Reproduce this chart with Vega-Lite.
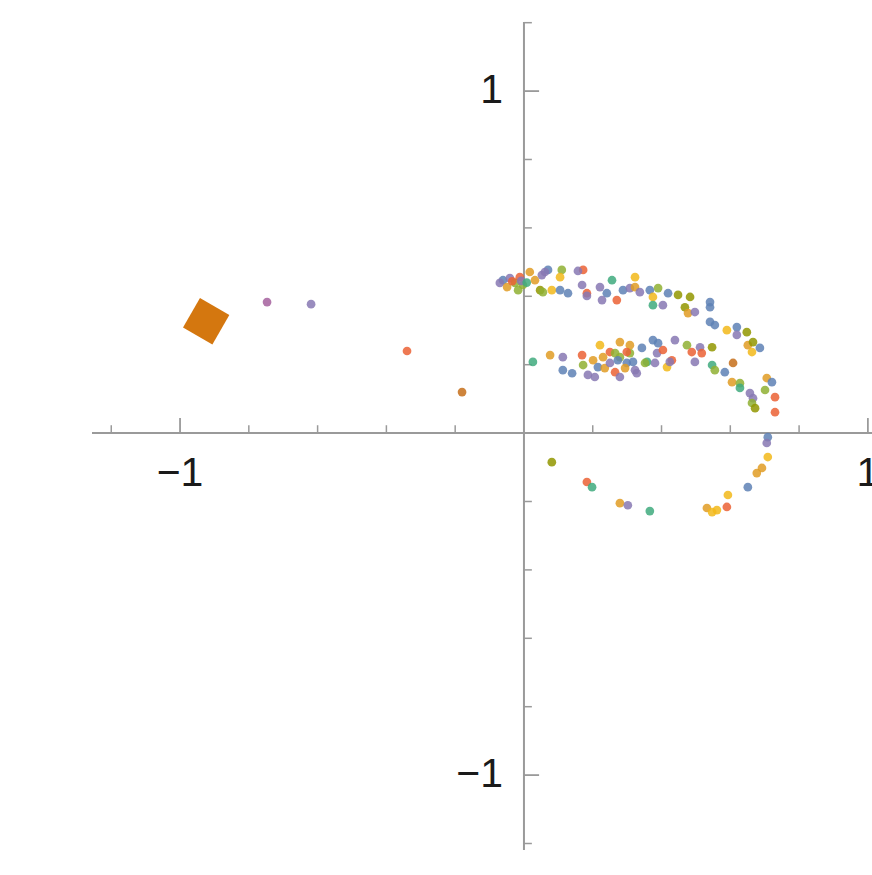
{
  "$schema": "https://vega.github.io/schema/vega-lite/v6.json",
  "width": 780,
  "height": 828,
  "autosize": {"type": "none"},
  "padding": {"left": 92, "top": 22, "right": 0, "bottom": 25},
  "background": "white",
  "config": {"view": {"stroke": null}},
  "datasets": {
    "pts": [
      {"x": -0.061, "y": 0.447, "c": "blue"},
      {"x": -0.041, "y": 0.453, "c": "purple"},
      {"x": -0.026, "y": 0.439, "c": "green"},
      {"x": -0.012, "y": 0.456, "c": "red"},
      {"x": -0.003, "y": 0.433, "c": "green"},
      {"x": 0.017, "y": 0.471, "c": "orange"},
      {"x": 0.032, "y": 0.447, "c": "orange"},
      {"x": 0.052, "y": 0.462, "c": "purple"},
      {"x": 0.070, "y": 0.477, "c": "blue"},
      {"x": 0.047, "y": 0.418, "c": "olive"},
      {"x": 0.081, "y": 0.418, "c": "yellow"},
      {"x": -0.070, "y": 0.439, "c": "purple"},
      {"x": -0.049, "y": 0.427, "c": "orange"},
      {"x": -0.017, "y": 0.418, "c": "green"},
      {"x": -0.034, "y": 0.444, "c": "red"},
      {"x": -0.008, "y": 0.445, "c": "purple"},
      {"x": 0.008, "y": 0.440, "c": "teal"},
      {"x": 0.061, "y": 0.471, "c": "purple"},
      {"x": 0.110, "y": 0.477, "c": "green"},
      {"x": 0.105, "y": 0.456, "c": "yellow"},
      {"x": 0.172, "y": 0.477, "c": "red"},
      {"x": 0.157, "y": 0.474, "c": "purple"},
      {"x": 0.055, "y": 0.412, "c": "green"},
      {"x": 0.105, "y": 0.418, "c": "blue"},
      {"x": 0.128, "y": 0.409, "c": "blue"},
      {"x": 0.169, "y": 0.433, "c": "purple"},
      {"x": 0.183, "y": 0.409, "c": "red"},
      {"x": 0.183, "y": 0.401, "c": "purple"},
      {"x": 0.221, "y": 0.427, "c": "purple"},
      {"x": 0.241, "y": 0.409, "c": "blue"},
      {"x": 0.256, "y": 0.447, "c": "teal"},
      {"x": 0.227, "y": 0.389, "c": "purple"},
      {"x": 0.270, "y": 0.389, "c": "red"},
      {"x": 0.288, "y": 0.418, "c": "blue"},
      {"x": 0.308, "y": 0.424, "c": "purple"},
      {"x": 0.323, "y": 0.456, "c": "yellow"},
      {"x": 0.323, "y": 0.427, "c": "orange"},
      {"x": 0.337, "y": 0.412, "c": "purple"},
      {"x": 0.366, "y": 0.418, "c": "blue"},
      {"x": 0.390, "y": 0.424, "c": "green"},
      {"x": 0.375, "y": 0.398, "c": "yellow"},
      {"x": 0.375, "y": 0.374, "c": "teal"},
      {"x": 0.404, "y": 0.374, "c": "purple"},
      {"x": 0.419, "y": 0.409, "c": "blue"},
      {"x": 0.448, "y": 0.404, "c": "olive"},
      {"x": 0.483, "y": 0.398, "c": "olive"},
      {"x": 0.468, "y": 0.368, "c": "olive"},
      {"x": 0.477, "y": 0.351, "c": "orange"},
      {"x": 0.497, "y": 0.354, "c": "purple"},
      {"x": 0.541, "y": 0.383, "c": "blue"},
      {"x": 0.541, "y": 0.368, "c": "blue"},
      {"x": 0.541, "y": 0.325, "c": "blue"},
      {"x": 0.555, "y": 0.316, "c": "blue"},
      {"x": 0.590, "y": 0.301, "c": "yellow"},
      {"x": 0.619, "y": 0.310, "c": "blue"},
      {"x": 0.648, "y": 0.295, "c": "olive"},
      {"x": 0.619, "y": 0.287, "c": "purple"},
      {"x": 0.651, "y": 0.257, "c": "orange"},
      {"x": 0.666, "y": 0.266, "c": "olive"},
      {"x": 0.663, "y": 0.237, "c": "yellow"},
      {"x": 0.686, "y": 0.249, "c": "blue"},
      {"x": 0.706, "y": 0.161, "c": "orange"},
      {"x": 0.721, "y": 0.149, "c": "blue"},
      {"x": 0.701, "y": 0.126, "c": "green"},
      {"x": 0.657, "y": 0.117, "c": "purple"},
      {"x": 0.666, "y": 0.102, "c": "purple"},
      {"x": 0.663, "y": 0.088, "c": "green"},
      {"x": 0.672, "y": 0.073, "c": "olive"},
      {"x": 0.730, "y": 0.105, "c": "red"},
      {"x": 0.730, "y": 0.061, "c": "red"},
      {"x": 0.026, "y": 0.208, "c": "teal"},
      {"x": 0.076, "y": 0.228, "c": "orange"},
      {"x": 0.113, "y": 0.222, "c": "purple"},
      {"x": 0.113, "y": 0.184, "c": "blue"},
      {"x": 0.140, "y": 0.175, "c": "blue"},
      {"x": 0.169, "y": 0.228, "c": "red"},
      {"x": 0.172, "y": 0.199, "c": "green"},
      {"x": 0.186, "y": 0.170, "c": "purple"},
      {"x": 0.201, "y": 0.213, "c": "orange"},
      {"x": 0.221, "y": 0.257, "c": "yellow"},
      {"x": 0.215, "y": 0.193, "c": "blue"},
      {"x": 0.230, "y": 0.222, "c": "orange"},
      {"x": 0.235, "y": 0.190, "c": "orange"},
      {"x": 0.206, "y": 0.164, "c": "purple"},
      {"x": 0.250, "y": 0.237, "c": "red"},
      {"x": 0.250, "y": 0.205, "c": "purple"},
      {"x": 0.265, "y": 0.178, "c": "red"},
      {"x": 0.279, "y": 0.266, "c": "orange"},
      {"x": 0.279, "y": 0.222, "c": "green"},
      {"x": 0.299, "y": 0.205, "c": "blue"},
      {"x": 0.308, "y": 0.234, "c": "green"},
      {"x": 0.323, "y": 0.184, "c": "purple"},
      {"x": 0.343, "y": 0.249, "c": "blue"},
      {"x": 0.358, "y": 0.208, "c": "teal"},
      {"x": 0.375, "y": 0.272, "c": "blue"},
      {"x": 0.387, "y": 0.234, "c": "purple"},
      {"x": 0.404, "y": 0.243, "c": "red"},
      {"x": 0.416, "y": 0.193, "c": "yellow"},
      {"x": 0.308, "y": 0.257, "c": "orange"},
      {"x": 0.390, "y": 0.263, "c": "blue"},
      {"x": 0.439, "y": 0.272, "c": "purple"},
      {"x": 0.474, "y": 0.257, "c": "green"},
      {"x": 0.488, "y": 0.237, "c": "red"},
      {"x": 0.265, "y": 0.234, "c": "green"},
      {"x": 0.299, "y": 0.237, "c": "red"},
      {"x": 0.273, "y": 0.213, "c": "blue"},
      {"x": 0.317, "y": 0.208, "c": "blue"},
      {"x": 0.352, "y": 0.205, "c": "green"},
      {"x": 0.381, "y": 0.205, "c": "purple"},
      {"x": 0.430, "y": 0.213, "c": "red"},
      {"x": 0.294, "y": 0.190, "c": "orange"},
      {"x": 0.328, "y": 0.175, "c": "purple"},
      {"x": 0.279, "y": 0.164, "c": "purple"},
      {"x": 0.512, "y": 0.251, "c": "purple"},
      {"x": 0.517, "y": 0.234, "c": "red"},
      {"x": 0.497, "y": 0.208, "c": "purple"},
      {"x": 0.547, "y": 0.251, "c": "olive"},
      {"x": 0.424, "y": 0.208, "c": "purple"},
      {"x": 0.547, "y": 0.199, "c": "teal"},
      {"x": 0.555, "y": 0.184, "c": "green"},
      {"x": 0.584, "y": 0.178, "c": "blue"},
      {"x": 0.608, "y": 0.205, "c": "brown"},
      {"x": 0.605, "y": 0.149, "c": "orange"},
      {"x": 0.628, "y": 0.146, "c": "green"},
      {"x": 0.628, "y": 0.132, "c": "teal"},
      {"x": 0.081, "y": -0.085, "c": "olive"},
      {"x": 0.183, "y": -0.143, "c": "red"},
      {"x": 0.198, "y": -0.158, "c": "teal"},
      {"x": 0.279, "y": -0.205, "c": "orange"},
      {"x": 0.302, "y": -0.211, "c": "purple"},
      {"x": 0.366, "y": -0.228, "c": "teal"},
      {"x": 0.709, "y": -0.012, "c": "blue"},
      {"x": 0.706, "y": -0.029, "c": "purple"},
      {"x": 0.709, "y": -0.070, "c": "yellow"},
      {"x": 0.692, "y": -0.102, "c": "orange"},
      {"x": 0.677, "y": -0.117, "c": "orange"},
      {"x": 0.651, "y": -0.158, "c": "blue"},
      {"x": 0.593, "y": -0.181, "c": "yellow"},
      {"x": 0.590, "y": -0.216, "c": "red"},
      {"x": 0.561, "y": -0.225, "c": "yellow"},
      {"x": 0.532, "y": -0.219, "c": "orange"},
      {"x": 0.547, "y": -0.231, "c": "yellow"},
      {"x": -0.747, "y": 0.383, "c": "magenta"},
      {"x": -0.619, "y": 0.377, "c": "purple"},
      {"x": -0.340, "y": 0.240, "c": "red"},
      {"x": -0.180, "y": 0.120, "c": "brown"}
    ],
    "big": [{"x": -0.924, "y": 0.327}],
    "xminor": [{"x": -1.2}, {"x": -0.8}, {"x": -0.6}, {"x": -0.4}, {"x": -0.2}, {"x": 0.2}, {"x": 0.4}, {"x": 0.6}, {"x": 0.8}],
    "xmajor": [{"x": -1}, {"x": 1}],
    "yminor": [{"y": -1.2}, {"y": -0.8}, {"y": -0.6}, {"y": -0.4}, {"y": -0.2}, {"y": 0.2}, {"y": 0.4}, {"y": 0.6}, {"y": 0.8}, {"y": 1.2}],
    "ymajor": [{"y": -1}, {"y": 1}],
    "xlabels": [{"x": -1, "y": 0, "t": "−1"}, {"x": 1, "y": 0, "t": "1"}],
    "ylabels": [{"x": 0, "y": 1, "t": "1"}, {"x": 0, "y": -1, "t": "−1"}]
  },
  "layer": [
    {
      "data": {"values": [{"a": 0}]},
      "mark": {"type": "rule", "color": "#9a9a9a", "strokeWidth": 2},
      "encoding": {
        "x": {"datum": -1.256, "type": "quantitative", "scale": {"domain": [-1.256, 1.012], "nice": false, "zero": false}, "axis": null},
        "x2": {"datum": 1.012},
        "y": {"datum": 0, "type": "quantitative", "scale": {"domain": [-1.219, 1.202], "nice": false, "zero": false}, "axis": null}
      }
    },
    {
      "data": {"values": [{"a": 0}]},
      "mark": {"type": "rule", "color": "#9a9a9a", "strokeWidth": 2},
      "encoding": {
        "y": {"datum": -1.219, "type": "quantitative", "scale": {"domain": [-1.219, 1.202], "nice": false, "zero": false}, "axis": null},
        "y2": {"datum": 1.202},
        "x": {"datum": 0, "type": "quantitative", "scale": {"domain": [-1.256, 1.012], "nice": false, "zero": false}, "axis": null}
      }
    },
    {
      "data": {"name": "xminor"},
      "mark": {"type": "rule", "color": "#9a9a9a", "strokeWidth": 1.5},
      "encoding": {
        "x": {"field": "x", "type": "quantitative", "scale": {"domain": [-1.256, 1.012], "nice": false, "zero": false}, "axis": null},
        "y": {"datum": 0, "type": "quantitative", "scale": {"domain": [-1.219, 1.202], "nice": false, "zero": false}, "axis": null},
        "y2": {"datum": 0.023}
      }
    },
    {
      "data": {"name": "xmajor"},
      "mark": {"type": "rule", "color": "#9a9a9a", "strokeWidth": 1.8},
      "encoding": {
        "x": {"field": "x", "type": "quantitative", "scale": {"domain": [-1.256, 1.012], "nice": false, "zero": false}, "axis": null},
        "y": {"datum": 0, "type": "quantitative", "scale": {"domain": [-1.219, 1.202], "nice": false, "zero": false}, "axis": null},
        "y2": {"datum": 0.044}
      }
    },
    {
      "data": {"name": "yminor"},
      "mark": {"type": "rule", "color": "#9a9a9a", "strokeWidth": 1.5},
      "encoding": {
        "y": {"field": "y", "type": "quantitative", "scale": {"domain": [-1.219, 1.202], "nice": false, "zero": false}, "axis": null},
        "x": {"datum": 0, "type": "quantitative", "scale": {"domain": [-1.256, 1.012], "nice": false, "zero": false}, "axis": null},
        "x2": {"datum": 0.023}
      }
    },
    {
      "data": {"name": "ymajor"},
      "mark": {"type": "rule", "color": "#9a9a9a", "strokeWidth": 1.8},
      "encoding": {
        "y": {"field": "y", "type": "quantitative", "scale": {"domain": [-1.219, 1.202], "nice": false, "zero": false}, "axis": null},
        "x": {"datum": 0, "type": "quantitative", "scale": {"domain": [-1.256, 1.012], "nice": false, "zero": false}, "axis": null},
        "x2": {"datum": 0.044}
      }
    },
    {
      "data": {"name": "xlabels"},
      "mark": {"type": "text", "font": "Liberation Sans", "fontSize": 41, "color": "#1a1a1a", "align": "center", "baseline": "top", "dy": 21},
      "encoding": {
        "x": {"field": "x", "type": "quantitative", "scale": {"domain": [-1.256, 1.012], "nice": false, "zero": false}, "axis": null},
        "y": {"field": "y", "type": "quantitative", "scale": {"domain": [-1.219, 1.202], "nice": false, "zero": false}, "axis": null},
        "text": {"field": "t"}
      }
    },
    {
      "data": {"name": "ylabels"},
      "mark": {"type": "text", "font": "Liberation Sans", "fontSize": 41, "color": "#1a1a1a", "align": "right", "baseline": "middle", "dx": -21},
      "encoding": {
        "x": {"field": "x", "type": "quantitative", "scale": {"domain": [-1.256, 1.012], "nice": false, "zero": false}, "axis": null},
        "y": {"field": "y", "type": "quantitative", "scale": {"domain": [-1.219, 1.202], "nice": false, "zero": false}, "axis": null},
        "text": {"field": "t"}
      }
    },
    {
      "data": {"name": "pts"},
      "mark": {"type": "point", "filled": true, "shape": "circle", "size": 76, "opacity": 0.85},
      "encoding": {
        "x": {"field": "x", "type": "quantitative", "scale": {"domain": [-1.256, 1.012], "nice": false, "zero": false}, "axis": null},
        "y": {"field": "y", "type": "quantitative", "scale": {"domain": [-1.219, 1.202], "nice": false, "zero": false}, "axis": null},
        "color": {
          "field": "c", "type": "nominal", "legend": null,
          "scale": {
            "domain": ["blue", "orange", "green", "red", "purple", "brown", "yellow", "olive", "teal", "magenta"],
            "range": ["#5E81B5", "#E19C24", "#8FB032", "#EB6235", "#8778B3", "#C56E1A", "#F2B81A", "#929600", "#3FAA7E", "#A5609D"]
          }
        }
      }
    },
    {
      "data": {"name": "big"},
      "mark": {"type": "point", "filled": true, "shape": "square", "size": 1150, "angle": 30, "color": "#D4770F", "opacity": 1},
      "encoding": {
        "x": {"field": "x", "type": "quantitative", "scale": {"domain": [-1.256, 1.012], "nice": false, "zero": false}, "axis": null},
        "y": {"field": "y", "type": "quantitative", "scale": {"domain": [-1.219, 1.202], "nice": false, "zero": false}, "axis": null}
      }
    }
  ]
}
